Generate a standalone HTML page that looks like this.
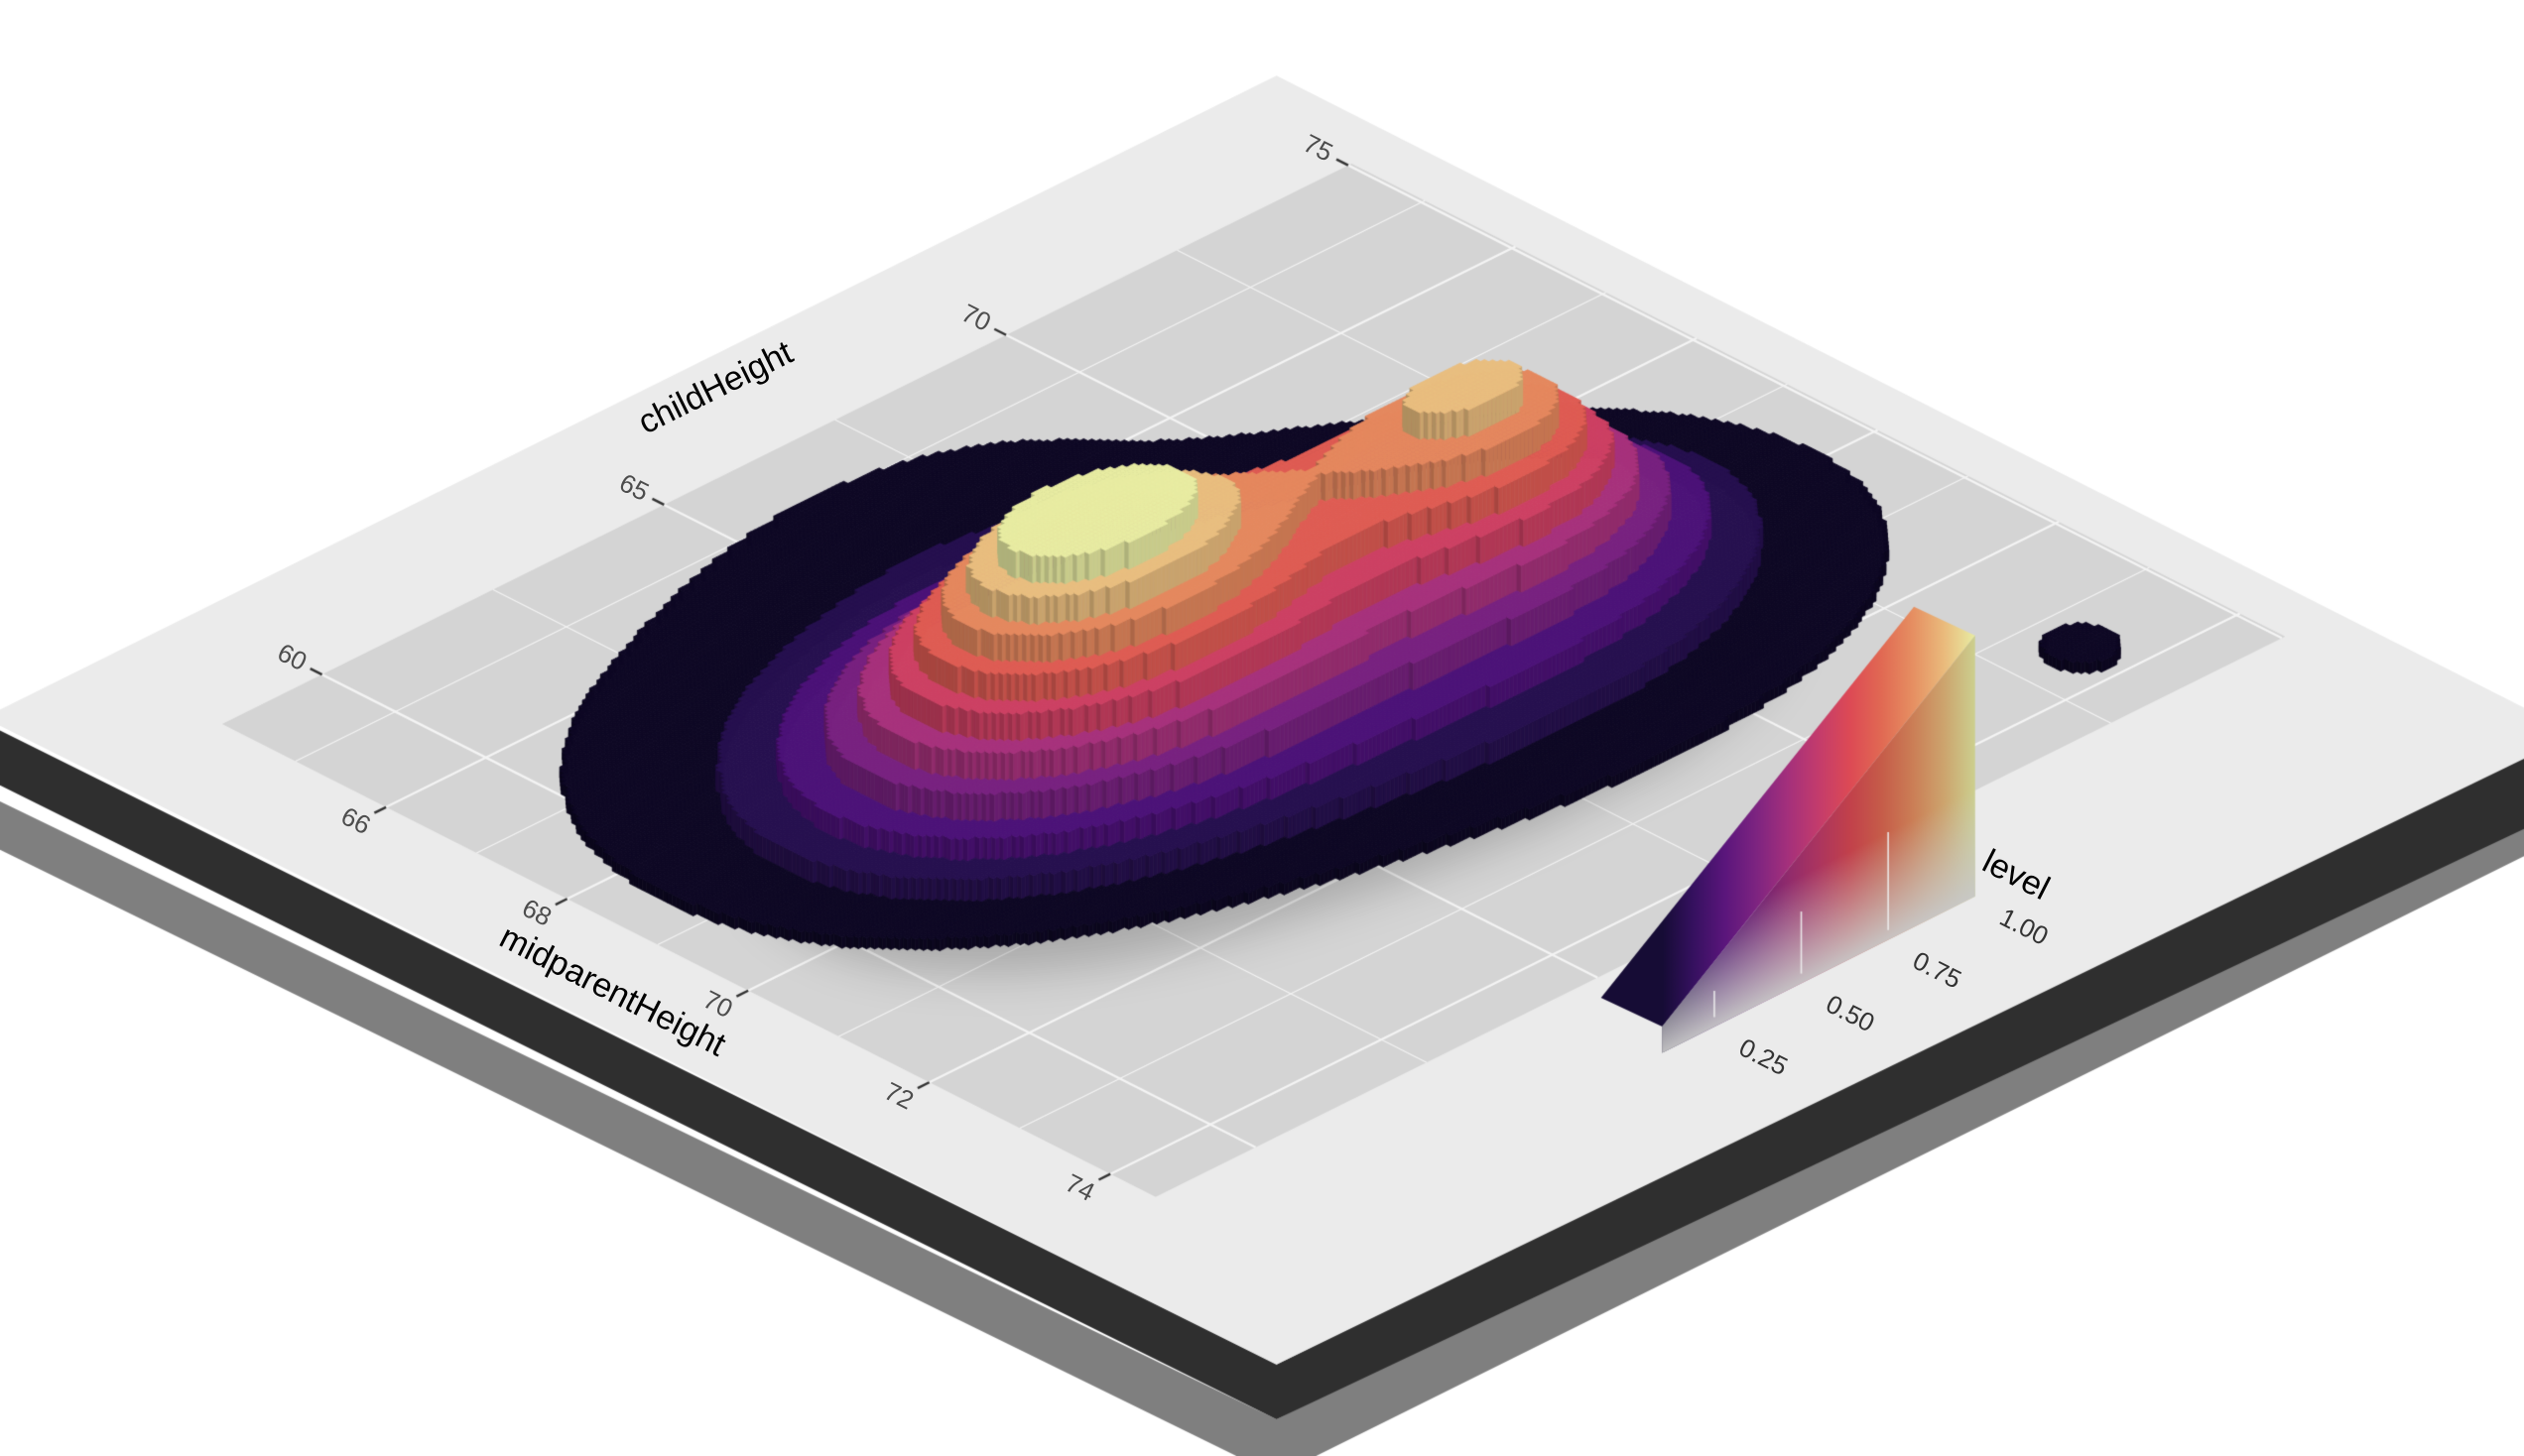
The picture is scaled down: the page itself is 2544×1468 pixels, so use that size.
<!DOCTYPE html>
<html><head><meta charset="utf-8"><style>
html,body{margin:0;padding:0;background:#fff;width:2544px;height:1468px;overflow:hidden}
#wrap{position:relative;width:2544px;height:1468px}
canvas,svg{position:absolute;left:0;top:0}
text{font-family:"Liberation Sans",sans-serif}
</style></head><body>
<div id="wrap">
<canvas id="cv" width="2544" height="1468"></canvas>
<svg id="ov" width="2544" height="1468" viewBox="0 0 1568 905"></svg>
</div>
<script>
// ---- data ----
const bumpMid   = [69.4, 69.7, 69.3, 68.6, 65.8, 73.6];
const bumpChild = [64.0, 69.9, 66.8, 66.3, 66.5, 73.3];
const bumpAmp   = [1.0, 0.74, 0.75, 0.13, 0.06, 0.07];
const bumpSdMid = [0.8, 0.65, 1.3, 2.1, 0.7, 0.42];
const bumpSdChild=[1.6, 1.3, 3.0, 4.0, 1.8, 0.55];
const bumpRho   = [0.1, 0.0, 0.25, 0.38, 0.0, 0.0];
const levelBreaks = [0.04,0.12,0.2,0.3,0.4,0.5,0.6,0.7,0.8,0.9];
const childTicks = [60,65,70,75];
const childMinor = [62.5,67.5,72.5];
const midTicks = [66,68,70,72,74];
const midMinor = [65,67,69,71,73];
const legendTicks = [0.25,0.5,0.75,1.0];
const legendLabels = ["0.25","0.50","0.75","1.00"];

const S=2544/1568;
const mMin=64.19,mMax=74.5,cMin=58.54,cMax=75.05;
const X0=138,Y0=450,MX=56.25,MY=28.5,CX=42.5,CY=-21.1,HSCALE=170;
function P(m,c,h){h=h||0;return [X0+(m-mMin)*MX+(c-cMin)*CX, Y0+(m-mMin)*MY+(c-cMin)*CY-h];}
const magmaStops=[[0,[0,0,4]],[0.13,[28,16,68]],[0.25,[79,18,123]],[0.38,[129,37,129]],[0.5,[181,54,122]],[0.63,[220,70,85]],[0.75,[226,112,82]],[0.88,[234,170,112]],[1,[232,236,162]]];
function magma(t){t=Math.max(0,Math.min(1,t));for(let i=1;i<magmaStops.length;i++){if(t<=magmaStops[i][0]){const a=magmaStops[i-1],b=magmaStops[i];const f=(t-a[0])/(b[0]-a[0]);return a[1].map((v,k)=>v+(b[1][k]-v)*f);}}return magmaStops[8][1];}
function rgb(c,k){k=k||1;return 'rgb('+c.map(v=>Math.round(Math.min(255,v*k))).join(',')+')';}

const cv=document.getElementById('cv');const ctx=cv.getContext('2d');
ctx.scale(S,S);
function poly(pts,fill,stroke,lw){ctx.beginPath();ctx.moveTo(pts[0][0],pts[0][1]);for(let i=1;i<pts.length;i++)ctx.lineTo(pts[i][0],pts[i][1]);ctx.closePath();if(fill){ctx.fillStyle=fill;ctx.fill();}if(stroke){ctx.strokeStyle=stroke;ctx.lineWidth=lw||1;ctx.stroke();}}

// plate & shadows
poly([[0,498],[793,882],[1568,497],[1568,532],[793,917],[0,528]],'#7f7f7f');
poly([[-10,449],[793,848],[1600,450],[1600,500],[793,882],[-10,483]],'#2f2f2f');
poly([[793,47],[1600,456],[793,848],[-10,446]],'#ebebeb');
// panel
poly([P(mMin,cMin),P(mMax,cMin),P(mMax,cMax),P(mMin,cMax)],'#d4d4d4');
function gline(a,b,w){ctx.beginPath();ctx.moveTo(a[0],a[1]);ctx.lineTo(b[0],b[1]);ctx.strokeStyle='#f4f4f4';ctx.lineWidth=w;ctx.stroke();}
childMinor.forEach(c=>gline(P(mMin,c),P(mMax,c),0.7));
midMinor.forEach(m=>gline(P(m,cMin),P(m,cMax),0.7));
childTicks.forEach(c=>gline(P(mMin,c),P(mMax,c),1.4));
midTicks.forEach(m=>gline(P(m,cMin),P(m,cMax),1.4));
// ticks
ctx.strokeStyle='#333';ctx.lineWidth=1.5;
childTicks.forEach(c=>{const a=P(mMin,c),b=P(mMin-0.13,c);ctx.beginPath();ctx.moveTo(a[0],a[1]);ctx.lineTo(b[0],b[1]);ctx.stroke();});
midTicks.forEach(m=>{const a=P(m,cMin),b=P(m,cMin-0.17);ctx.beginPath();ctx.moveTo(a[0],a[1]);ctx.lineTo(b[0],b[1]);ctx.stroke();});

// density grid
const NI=220,NJ=290;const dm=(mMax-mMin)/NI,dc=(cMax-cMin)/NJ;
const lev=[];let fmax=0;const raw=[];
for(let i=0;i<NI;i++){raw.push([]);for(let j=0;j<NJ;j++){const m=mMin+(i+0.5)*dm,c=cMin+(j+0.5)*dc;let f=0;for(let k=0;k<bumpMid.length;k++){const a=(m-bumpMid[k])/bumpSdMid[k],b=(c-bumpChild[k])/bumpSdChild[k],r=bumpRho[k];f+=bumpAmp[k]*Math.exp(-(a*a-2*r*a*b+b*b)/(2*(1-r*r)));}raw[i].push(f);if(f>fmax)fmax=f;}}
for(let i=0;i<NI;i++){lev.push([]);for(let j=0;j<NJ;j++){const f=raw[i][j]/fmax*1.05;let L=-1;for(let k=0;k<levelBreaks.length;k++)if(f>=levelBreaks[k])L=k;lev[i].push(L);}}
function hOf(L){return L<0?0:levelBreaks[L]*HSCALE;}
// shadow
const sh=document.createElement('canvas');sh.width=2544;sh.height=1468;const sx=sh.getContext('2d');sx.scale(S,S);sx.fillStyle='#000';
for(let i=0;i<NI;i++)for(let j=0;j<NJ;j++){if(lev[i][j]<1)continue;const m=mMin+i*dm,c=cMin+j*dc;const q=[P(m,c),P(m+dm,c),P(m+dm,c+dc),P(m,c+dc)];sx.beginPath();sx.moveTo(q[0][0],q[0][1]);q.forEach(p=>sx.lineTo(p[0],p[1]));sx.fill();}
ctx.save();ctx.setTransform(1,0,0,1,0,0);ctx.globalAlpha=0.22;ctx.filter='blur(22px)';ctx.drawImage(sh,30,60);ctx.restore();ctx.filter='none';
// columns
for(let i=0;i<NI;i++){for(let j=NJ-1;j>=0;j--){const L=lev[i][j];if(L<0)continue;const h=hOf(L);const m=mMin+i*dm,c=cMin+j*dc;
 const col=magma(Math.min(1,levelBreaks[L]*1.12+0.02));
 const hR=i+1<NI?hOf(lev[i+1][j]):0;const hF=j>0?hOf(lev[i][j-1]):0;
 if(h>hF){poly([P(m,c,hF),P(m+dm,c,hF),P(m+dm,c,h),P(m,c,h)],rgb(col,0.75),rgb(col,0.75),0.4);}
 if(h>hR){poly([P(m+dm,c,hR),P(m+dm,c+dc,hR),P(m+dm,c+dc,h),P(m+dm,c,h)],rgb(col,0.86),rgb(col,0.86),0.4);}
 poly([P(m,c,h),P(m+dm,c,h),P(m+dm,c+dc,h),P(m,c+dc,h)],rgb(col),rgb(col),0.5);
}}

// legend
const LX0=1011,LX1=1227,LYg1=557,LH=162,BW=[-38,-18];
function lg(t){const x=LX0+(LX1-LX0)*t;return [x,LYg1+0.5*(LX1-x)];}
const t0=0.1;const g0=lg(t0),g1=lg(1);
const top0=[g0[0],g0[1]-LH*t0],top1=[g1[0],g1[1]-LH];
function grad(k){const gr=ctx.createLinearGradient(g0[0],0,g1[0],0);for(let s=0;s<=10;s++){const t=t0+(1-t0)*s/10;gr.addColorStop(s/10,rgb(magma(t),k));}return gr;}
poly([[top0[0]+BW[0],top0[1]+BW[1]],top0,top1,[top1[0]+BW[0],top1[1]+BW[1]]],grad(1));
poly([g0,g1,top1,top0],grad(0.88));
ctx.save();ctx.beginPath();[g0,g1,top1,top0].forEach((p,k)=>k?ctx.lineTo(p[0],p[1]):ctx.moveTo(p[0],p[1]));ctx.closePath();ctx.clip();
const n=[0.447,0.894];const fg=ctx.createLinearGradient(g1[0]-60*n[0],g1[1]-60*n[1],g1[0],g1[1]);fg.addColorStop(0,'rgba(200,200,200,0)');fg.addColorStop(1,'rgba(200,200,200,0.95)');ctx.fillStyle=fg;ctx.fillRect(900,300,400,400);ctx.restore();
ctx.strokeStyle='rgba(240,240,240,0.9)';ctx.lineWidth=1;
legendTicks.slice(0,3).forEach(t=>{const g=lg(t);ctx.beginPath();ctx.moveTo(g[0],g[1]-6);ctx.lineTo(g[0],g[1]-LH*t*0.55);ctx.stroke();});

// text overlay
const ov=document.getElementById('ov');const NS='http://www.w3.org/2000/svg';
function txt(s,x,y,rot,size,fill,anchor,name){const e=document.createElementNS(NS,'text');e.textContent=s;e.setAttribute('x',x);e.setAttribute('y',y);e.setAttribute('font-size',size);e.setAttribute('fill',fill);e.setAttribute('text-anchor',anchor);e.setAttribute('dominant-baseline','middle');e.setAttribute('transform','rotate('+rot+' '+x+' '+y+')');


ov.appendChild(e);}
childTicks.forEach(c=>{const p=P(mMin-0.2,c);txt(String(c),p[0],p[1],27,16,'#4d4d4d','end','child-tick-label');});
midTicks.forEach(m=>{const p=P(m,cMin-0.55);txt(String(m),p[0]+4,p[1]-2,27,16,'#4d4d4d','middle','mid-tick-label');});
txt('childHeight',445,242,-26.4,21,'#000','middle','y-axis-title');
txt('midparentHeight',380,617,27,21,'#000','middle','x-axis-title');
txt('level',1252,545,27,21,'#000','middle','legend-title');
legendTicks.forEach((t,k)=>{const g=lg(t);txt(legendLabels[k],g[0]+30,g[1]+20,27,16,'#333','middle','legend-label');});
</script>
</body></html>
